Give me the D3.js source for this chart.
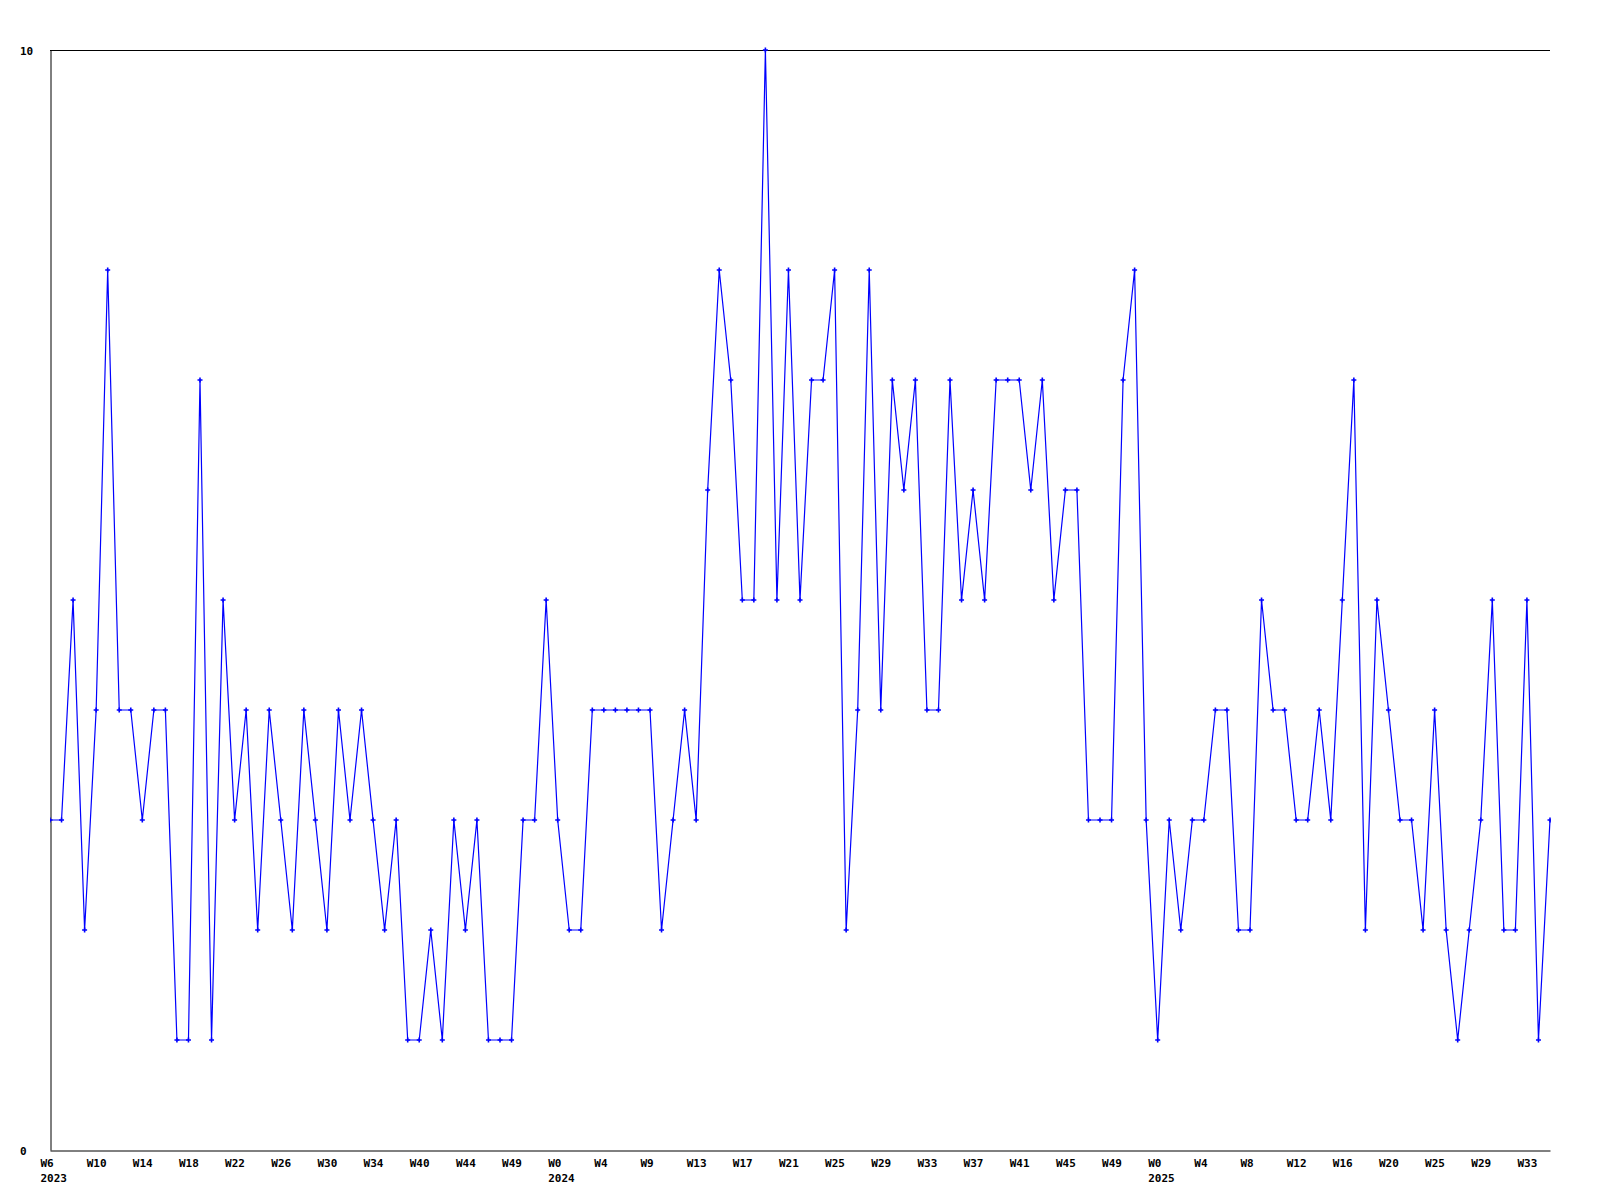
<!DOCTYPE html>
<html>
<head>
<meta charset="utf-8">
<script src="https://cdn.jsdelivr.net/npm/d3@7"></script>
<style>
  html, body { margin: 0; padding: 0; background: #fff; }
  svg { display: block; }
  .lbl text { font-family: "DejaVu Sans Mono", monospace; font-weight: bold; font-size: 11px; fill: #000; }
</style>
</head>
<body>
<svg id="chart" width="1600" height="1200"></svg>
<script>
// Weekly values, 2023 W6 onwards (131 points)
const values = [
  3,3,5,2,4,8,4,4,3,4,4,1,1,7,1,5,3,4,2,4,
  3,2,4,3,2,4,3,4,3,2,3,1,1,2,1,3,2,3,1,1,
  1,3,3,5,3,2,2,4,4,4,4,4,4,2,3,4,3,6,8,7,
  5,5,10,5,8,5,7,7,8,2,4,8,4,7,6,7,4,4,7,5,
  6,5,7,7,7,6,7,5,6,6,3,3,3,7,8,3,1,3,2,3,
  3,4,4,2,2,5,4,4,3,3,4,3,5,7,2,5,4,3,3,2,
  4,2,1,2,3,5,2,2,5,1,3
];
// Tick labels, one every 4 points
const tickLabels = [
  "W6","W10","W14","W18","W22","W26","W30","W34","W40","W44","W49",
  "W0","W4","W9","W13","W17","W21","W25","W29","W33","W37","W41","W45","W49",
  "W0","W4","W8","W12","W16","W20","W25","W29","W33"
];
const tickStep = 4;
const yearLabels = ["2023","2024","2025"];
const yearIndex = [0, 44, 96];
const yTicks = [0, 10];

(function () {
const svg = d3.select("#chart");
const mLeft = 50, mRight = 1550, mTop = 50, mBottom = 1150;

const x = d3.scaleLinear().domain([0, values.length - 1]).range([mLeft, mRight]);
const y = d3.scaleLinear().domain([0, 10]).range([mBottom, mTop]);

// top border
svg.append("line")
  .attr("x1", mLeft).attr("x2", mRight)
  .attr("y1", mTop + 0.5).attr("y2", mTop + 0.5)
  .attr("stroke", "#000").attr("stroke-width", 1);

// bottom axis with week labels
const tickVals = tickLabels.map((d, i) => i * tickStep);
const xAxis = d3.axisBottom(x)
  .tickValues(tickVals)
  .tickFormat((d, i) => tickLabels[i])
  .tickSize(0).tickSizeOuter(0);
const gx = svg.append("g").attr("class", "lbl")
  .attr("transform", `translate(0,${mBottom + 0.5})`)
  .call(xAxis);
gx.select(".domain").attr("stroke", "#000").attr("stroke-width", 1);
gx.selectAll(".tick text")
  .attr("text-anchor", "start")
  .attr("dx", -10)
  .attr("y", 16)
  .attr("dy", 0);

// year labels via a second axis
const yearAxis = d3.axisBottom(x)
  .tickValues(yearIndex)
  .tickFormat((d, i) => yearLabels[i])
  .tickSize(0).tickSizeOuter(0);
const gyear = svg.append("g").attr("class", "lbl")
  .attr("transform", `translate(0,${mBottom + 0.5})`)
  .call(yearAxis);
gyear.select(".domain").remove();
gyear.selectAll(".tick text")
  .attr("text-anchor", "start")
  .attr("dx", -10)
  .attr("y", 31)
  .attr("dy", 0);

// left axis
const yAxis = d3.axisLeft(y).tickValues(yTicks).tickFormat(d3.format("d"))
  .tickSize(0).tickSizeOuter(0);
const gy = svg.append("g").attr("class", "lbl")
  .attr("transform", `translate(${mLeft + 0.5},0)`)
  .call(yAxis);
gy.select(".domain").attr("stroke", "#000").attr("stroke-width", 1);
gy.selectAll(".tick text")
  .attr("text-anchor", "start")
  .attr("x", 20 - mLeft - 0.5)
  .attr("dy", 4);

// clip to plot area horizontally
svg.append("clipPath").attr("id", "clip")
  .append("rect").attr("x", mLeft).attr("y", 0).attr("width", mRight - mLeft + 1).attr("height", 1200);

const plot = svg.append("g").attr("clip-path", "url(#clip)");

const line = d3.line().x((d, i) => x(i)).y(d => y(d));
plot.append("path")
  .datum(values)
  .attr("d", line)
  .attr("fill", "none")
  .attr("stroke", "#0000ff")
  .attr("stroke-width", 1.2);

plot.selectAll(".mk")
  .data(values)
  .join("path")
  .attr("class", "mk")
  .attr("transform", (d, i) => `translate(${x(i)},${y(d)})`)
  .attr("d", "M-2.5,0H2.5M0,-2.5V2.5")
  .attr("stroke", "#0000ff")
  .attr("stroke-width", 1.6)
  .attr("fill", "none");
})();
</script>
</body>
</html>
